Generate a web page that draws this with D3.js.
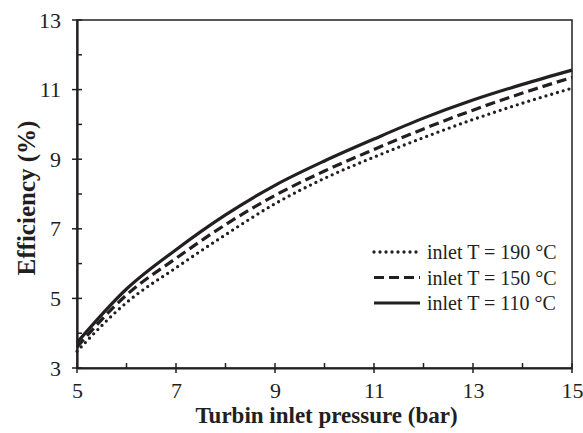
<!DOCTYPE html>
<html>
<head>
<meta charset="utf-8">
<script src="https://cdn.jsdelivr.net/npm/d3@7"></script>
<style>
  body { margin: 0; background: #fff; }
  text { font-family: "Liberation Serif", "Times New Roman", serif; fill: #231f20; }
</style>
</head>
<body>
<svg id="chart" width="583" height="433"></svg>
<script>
const pressures = [5, 6, 7, 8, 9, 10, 11, 12, 13, 14, 15];
const eff190 = [3.48, 4.88, 5.88, 6.83, 7.72, 8.45, 9.06, 9.62, 10.14, 10.61, 11.04];
const eff150 = [3.60, 5.10, 6.15, 7.12, 7.96, 8.66, 9.28, 9.87, 10.41, 10.90, 11.35];
const eff110 = [3.73, 5.27, 6.40, 7.40, 8.25, 8.95, 9.58, 10.18, 10.70, 11.15, 11.56];
const seriesNames = ["inlet T = 190 °C", "inlet T = 150 °C", "inlet T = 110 °C"];
const xTicks = [5, 7, 9, 11, 13, 15];
const yTicks = [3, 5, 7, 9, 11, 13];

const ink = "#231f20";
const margin = {left: 77, right: 11, top: 20, bottom: 65};
const svg = d3.select("#chart");
const W = +svg.attr("width"), H = +svg.attr("height");

const x = d3.scaleLinear().domain([5, 15]).range([margin.left, W - margin.right]);
const y = d3.scaleLinear().domain([3, 13]).range([H - margin.bottom, margin.top]);

// frame
svg.append("rect")
    .attr("x", x(5)).attr("y", y(13))
    .attr("width", x(15) - x(5)).attr("height", y(3) - y(13))
    .attr("fill", "none").attr("stroke", ink).attr("stroke-width", 1.5);

// curves
const series = [
  {name: seriesNames[0], values: eff190, dash: "0,6", width: 3.3},
  {name: seriesNames[1], values: eff150, dash: "10,5", width: 3.2},
  {name: seriesNames[2], values: eff110, dash: null, width: 3.2}
];

const line = d3.line()
    .x((d, i) => x(pressures[i]))
    .y(d => y(d))
    .curve(d3.curveMonotoneX);

svg.append("g").attr("class", "lines")
  .selectAll("path")
  .data(series)
  .enter().append("path")
    .attr("d", d => line(d.values))
    .attr("fill", "none")
    .attr("stroke", ink)
    .attr("stroke-width", d => d.width)
    .attr("stroke-linecap", d => d.dash && d.dash.startsWith("0") ? "round" : "butt")
    .attr("stroke-dasharray", d => d.dash);

// axes
const xAxis = svg.append("g")
    .attr("transform", `translate(0,${y(3)})`)
    .call(d3.axisBottom(x).tickValues(xTicks).tickSize(0).tickPadding(14));
xAxis.select(".domain").attr("stroke", ink).attr("stroke-width", 2.2);
xAxis.selectAll("text").style("font-size", "22px").attr("fill", ink);

const yAxis = svg.append("g")
    .attr("transform", `translate(${x(5)},0)`)
    .call(d3.axisLeft(y).tickValues(yTicks).tickSize(0).tickPadding(16));
yAxis.select(".domain").attr("stroke", ink).attr("stroke-width", 2.2);
yAxis.selectAll("text").style("font-size", "22px").attr("fill", ink);

// major ticks cross the axis, minor ticks point inward
const allX = d3.range(5, 15.01, 1);
svg.append("g").selectAll("line")
  .data(allX)
  .enter().append("line")
    .attr("x1", d => x(d)).attr("x2", d => x(d))
    .attr("y1", d => xTicks.includes(d) ? y(3) + 5 : y(3))
    .attr("y2", y(3) - 5)
    .attr("stroke", ink).attr("stroke-width", 1.5);

const allY = d3.range(3, 13.01, 1);
svg.append("g").selectAll("line")
  .data(allY)
  .enter().append("line")
    .attr("y1", d => y(d)).attr("y2", d => y(d))
    .attr("x1", d => yTicks.includes(d) ? x(5) - 5 : x(5))
    .attr("x2", x(5) + 5)
    .attr("stroke", ink).attr("stroke-width", 1.5);

// axis titles
svg.append("text")
    .attr("x", (x(5) + x(15)) / 2 + 2).attr("y", 423)
    .attr("text-anchor", "middle")
    .style("font-size", "23px").style("font-weight", "bold")
    .text("Turbin inlet pressure (bar)");

svg.append("text")
    .attr("transform", `translate(35,${(y(3) + y(13)) / 2 + 4}) rotate(-90)`)
    .attr("text-anchor", "middle")
    .style("font-size", "25px").style("font-weight", "bold")
    .text("Efficiency (%)");

// legend
const legend = svg.append("g").attr("class", "legend")
  .selectAll("g")
  .data(series)
  .enter().append("g")
    .attr("transform", (d, i) => `translate(372,${252 + i * 25.5})`);

legend.append("line")
    .attr("x1", 2).attr("x2", 48)
    .attr("stroke", ink)
    .attr("stroke-width", d => d.width)
    .attr("stroke-linecap", d => d.dash && d.dash.startsWith("0") ? "round" : "butt")
    .attr("stroke-dasharray", d => d.dash);

legend.append("text")
    .attr("x", 55).attr("dy", "0.35em")
    .style("font-size", "20px")
    .text(d => d.name);
</script>
</body>
</html>
